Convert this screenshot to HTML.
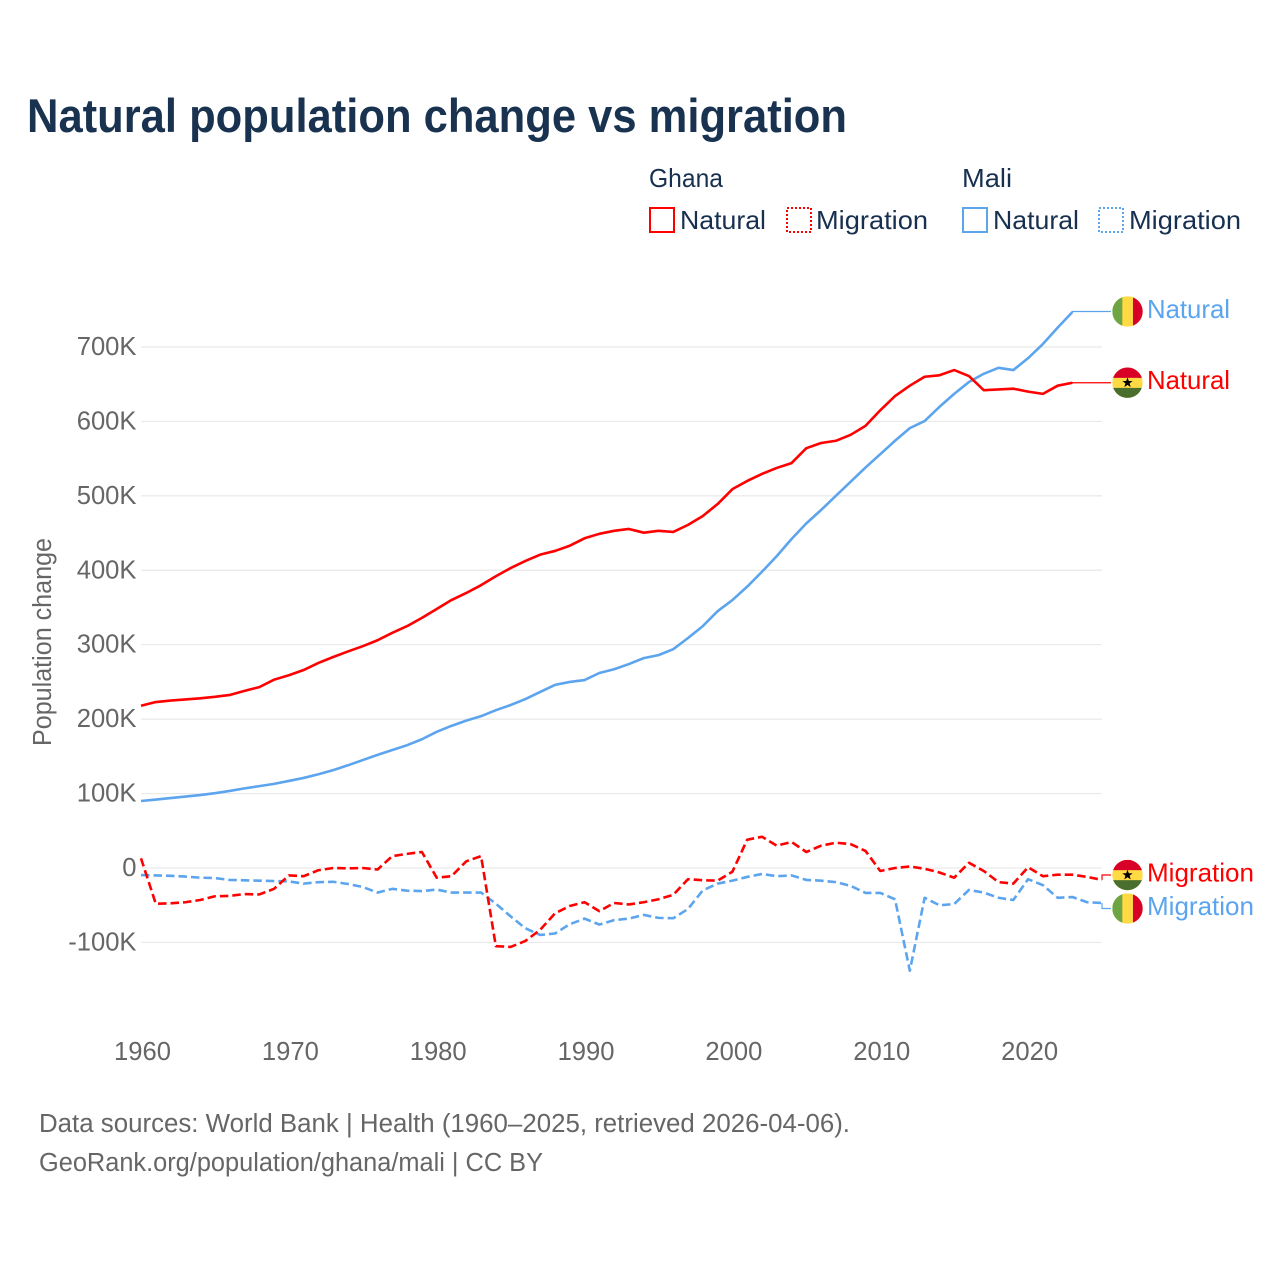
<!DOCTYPE html>
<html lang="en">
<head>
<meta charset="utf-8">
<title>Natural population change vs migration</title>
<style>
  html, body { margin: 0; padding: 0; background: #fff; }
  svg { display: block; font-family: "Liberation Sans", "DejaVu Sans", sans-serif; }
  .legend-text { fill: #18304f; font-size: 26px; }
  .grey { fill: #666666; }
</style>
</head>
<body>
<svg id="chart" width="1280" height="1280" viewBox="0 0 1280 1280" xmlns="http://www.w3.org/2000/svg">
  <rect x="0" y="0" width="1280" height="1280" fill="#ffffff"/>
  <text x="27" y="132" font-size="47" font-weight="700" fill="#18324f" textLength="820" lengthAdjust="spacingAndGlyphs">Natural population change vs migration</text>

  <text class="legend-text" x="649" y="187" textLength="74" lengthAdjust="spacingAndGlyphs">Ghana</text>
  <g>
    <rect x="650" y="208" width="24" height="24" fill="#fff" stroke="#ff0000" stroke-width="2"/>
    <text class="legend-text" x="680" y="229" textLength="86" lengthAdjust="spacingAndGlyphs">Natural</text>
  </g>
  <g>
    <rect x="787" y="208" width="24" height="24" fill="#fff" stroke="#ff0000" stroke-width="2" stroke-dasharray="2 2"/>
    <text class="legend-text" x="816" y="229" textLength="112" lengthAdjust="spacingAndGlyphs">Migration</text>
  </g>
  <text class="legend-text" x="962" y="187" textLength="50" lengthAdjust="spacingAndGlyphs">Mali</text>
  <g>
    <rect x="963" y="208" width="24" height="24" fill="#fff" stroke="#5ca5ee" stroke-width="2"/>
    <text class="legend-text" x="993" y="229" textLength="86" lengthAdjust="spacingAndGlyphs">Natural</text>
  </g>
  <g>
    <rect x="1099" y="208" width="24" height="24" fill="#fff" stroke="#5ca5ee" stroke-width="2" stroke-dasharray="2 2"/>
    <text class="legend-text" x="1129" y="229" textLength="112" lengthAdjust="spacingAndGlyphs">Migration</text>
  </g>

  <text class="grey" transform="translate(51,642) rotate(-90)" text-anchor="middle" font-size="25.5" textLength="208" lengthAdjust="spacingAndGlyphs">Population change</text>

  <g id="grid"></g>
  <g id="yticks"></g>
  <g id="xticks"></g>
  <g id="series"></g>
  <g id="labels"></g>

  <text class="grey" x="39" y="1132" font-size="25.5" textLength="811" lengthAdjust="spacingAndGlyphs">Data sources: World Bank | Health (1960–2025, retrieved 2026-04-06).</text>
  <text class="grey" x="39" y="1171" font-size="25.5" textLength="504" lengthAdjust="spacingAndGlyphs">GeoRank.org/population/ghana/mali | CC BY</text>
</svg>
<script>
const firstYear = 1960;
const yTickValues = [-100, 0, 100, 200, 300, 400, 500, 600, 700];
const yTickLabels = ["-100K", "0", "100K", "200K", "300K", "400K", "500K", "600K", "700K"];
const xTickYears = [1960, 1970, 1980, 1990, 2000, 2010, 2020];

// Values in thousands, one per year from 1960
const ghanaNatural = [218,223,225,226.5,228,230,232.5,238,243,253,259,266,275.5,283.5,291,298,306,316,325,336,348,360,369.5,380,392,403,412.5,421,426,433,443,449,453,455.5,450.5,453,451.5,461,473,489,509,520,529.5,537.5,544,564,571,574,582,594,615,634,648,660,662,669,661,642,643,644,640,637,648,652];
const maliNatural = [90,92,94,96,98,100.5,103.5,107,110,113,117,121,126,131.5,138,145,152,158.5,165,173,183,191,198,204,212,219,227,236.5,246,250,252.5,262,267,274,282,286,294,309,325,345,360,378,398,419,442,463,481,500,519,538,556,574,591,600.5,619.5,637,653,664,672,669,685,704,726,747];
const ghanaMigration = [13,-48,-47.5,-46,-43,-38,-37.5,-35,-35.5,-28,-10,-11,-3,0,-0.5,0,-2,16,19,21.5,-13,-11,9,16,-105,-106,-98,-83,-61,-51,-46,-58,-47,-49,-46,-42,-36,-15,-16.5,-17,-5,38,42,30,35,21.5,30,34,32,23,-4,0,2,-1,-6,-13,7,-4,-19,-21,1,-11,-9,-9,-12,-16];
const maliMigration = [-9.5,-10,-10.5,-11.5,-13,-13.5,-16,-16.5,-17,-17.5,-18,-21,-19,-18.5,-21.5,-25.5,-33,-28,-30.5,-31,-29,-33,-33,-33,-48,-65,-81,-90,-88,-75.5,-68,-76,-70,-68,-63,-67,-67.5,-55,-30,-21,-17,-12,-8,-11,-10,-16,-17,-19,-24,-33.5,-33.5,-42,-138,-40,-50,-48.5,-29.5,-33,-40,-43,-15,-23,-40,-39,-46,-47];

const NS = "http://www.w3.org/2000/svg";
const RED = "#ff0000";
const BLUE = "#5ca5ee";

function xScale(year) { return 141 + (year - firstYear) * 14.785; }
function yScale(v) { return 868 - v * 0.7443; }
function make(tag, attrs, parent) {
  const el = document.createElementNS(NS, tag);
  for (const k in attrs) el.setAttribute(k, attrs[k]);
  parent.appendChild(el);
  return el;
}

const grid = document.getElementById("grid");
const yticks = document.getElementById("yticks");
const xticks = document.getElementById("xticks");
const seriesG = document.getElementById("series");
const labelsG = document.getElementById("labels");

yTickValues.forEach(function (v, i) {
  const line = make("line", { x1: 141, x2: 1102, y1: yScale(v), y2: yScale(v), stroke: "#e9e9e9", "stroke-width": 1.2 }, grid);
  
  
  const t = make("text", { x: 136.5, y: yScale(v) + 8, "text-anchor": "end", "font-size": 25.6, fill: "#666666" }, yticks);
  
  
  t.textContent = yTickLabels[i];
});

xTickYears.forEach(function (yr) {
  const t = make("text", { x: xScale(yr) + 1.5, y: 1060, "text-anchor": "middle", "font-size": 25.6, fill: "#666666" }, xticks);
  
  
  t.textContent = String(yr);
});

function linePath(values) {
  return values.map(function (v, i) {
    return (i ? "L" : "M") + xScale(firstYear + i).toFixed(2) + " " + yScale(v).toFixed(2);
  }).join(" ");
}

function drawLine(values, color, dashed, name) {
  const attrs = { d: linePath(values), fill: "none", stroke: color, "stroke-width": 2.6, "stroke-linejoin": "round" };
  if (dashed) attrs["stroke-dasharray"] = "8.5 4";
  const p = make("path", attrs, seriesG);
  
  
}

drawLine(maliNatural, BLUE, false, 'line-mali-natural');
drawLine(maliMigration, BLUE, true, 'line-mali-migration');
drawLine(ghanaNatural, RED, false, 'line-ghana-natural');
drawLine(ghanaMigration, RED, true, 'line-ghana-migration');

function drawFlag(kind, cy, parent) {
  const cx = 1127.5, r = 15.2;
  const g = make("g", {}, parent);
  
  
  const clipId = "clip-" + kind + "-" + Math.round(cy);
  const defs = make("defs", {}, g);
  const clip = make("clipPath", { id: clipId }, defs);
  make("circle", { cx: cx, cy: cy, r: r }, clip);
  make("circle", { cx: cx, cy: cy, r: r + 1, fill: "#ffffff" }, g);
  const bands = make("g", { "clip-path": "url(#" + clipId + ")" }, g);
  if (kind === "mali") {
    make("rect", { x: cx - r, y: cy - r, width: r * 2, height: r * 2, fill: "#ffda44" }, bands);
    make("rect", { x: cx - r, y: cy - r, width: r * 0.66, height: r * 2, fill: "#6da544" }, bands);
    make("rect", { x: cx + r * 0.36, y: cy - r, width: r * 0.66, height: r * 2, fill: "#d80027" }, bands);
  } else {
    make("rect", { x: cx - r, y: cy - r, width: r * 2, height: r * 2, fill: "#ffda44" }, bands);
    make("rect", { x: cx - r, y: cy - r, width: r * 2, height: r * 0.68, fill: "#d80027" }, bands);
    make("rect", { x: cx - r, y: cy + r * 0.34, width: r * 2, height: r * 0.68, fill: "#496e2d" }, bands);
    const pts = [];
    for (let i = 0; i < 10; i++) {
      const a = -Math.PI / 2 + i * Math.PI / 5;
      const rad = i % 2 ? 2.2 : 5.4;
      pts.push((cx + rad * Math.cos(a)).toFixed(2) + "," + (cy + rad * Math.sin(a)).toFixed(2));
    }
    make("polygon", { points: pts.join(" "), fill: "#000000" }, g);
  }
}

function drawEndLabel(values, kind, color, text, labelY, width, name) {
  const lastIndex = values.length - 1;
  const lx = xScale(firstYear + lastIndex);
  const ly = yScale(values[lastIndex]);
  const c = make("path", { d: "M" + lx.toFixed(2) + " " + ly.toFixed(2) + " V" + labelY + " H1111", fill: "none", stroke: color, "stroke-width": 1.2 }, labelsG);
  
  
  drawFlag(kind, labelY, labelsG);
  const t = make("text", { x: 1147, y: labelY + 6.5, "font-size": 26, fill: color, textLength: width, lengthAdjust: "spacingAndGlyphs" }, labelsG);
  
  
  t.textContent = text;
}

drawEndLabel(maliNatural, "mali", BLUE, "Natural", yScale(maliNatural[maliNatural.length - 1]) - 0.5, 83, 'mali-natural');
drawEndLabel(ghanaNatural, "ghana", RED, "Natural", yScale(ghanaNatural[ghanaNatural.length - 1]), 83, 'ghana-natural');
drawEndLabel(ghanaMigration, "ghana", RED, "Migration", 875, 107, 'ghana-migration');
drawEndLabel(maliMigration, "mali", BLUE, "Migration", 908.5, 107, 'mali-migration');
</script>
</body>
</html>
